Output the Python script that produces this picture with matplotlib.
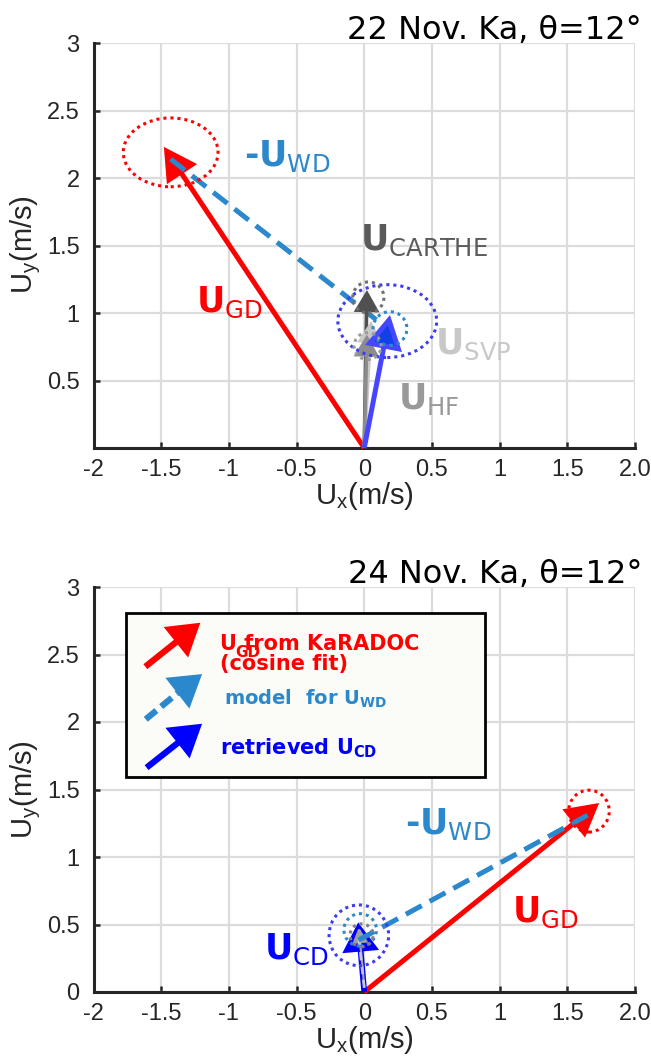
import matplotlib
matplotlib.use("Agg")
import matplotlib.pyplot as plt
from matplotlib.patches import Ellipse, Rectangle

plt.rcParams['font.family'] = ['DejaVu Sans']
plt.rcParams['mathtext.fontset'] = 'dejavusans'

# colores
ROJO = '#ff0000'
CELESTE = '#2b88cc'
AZUL = '#0000ff'
GRIS_OSC = '#505050'
GRIS = '#8c8c8c'
GRIS_CLARO = '#c8c8c8'

xticks = [-2, -1.5, -1, -0.5, 0, 0.5, 1, 1.5, 2]
xticklabels = ['-2', '-1.5', '-1', '-0.5', '0', '0.5', '1', '1.5', '2.0']
yticks = [0, 0.5, 1, 1.5, 2, 2.5, 3]
yticklabels_22 = ['', '0.5', '1', '1.5', '2', '2.5', '3']
yticklabels_24 = ['0', '0.5', '1', '1.5', '2', '2.5', '3']

# 22 Nov: vectores (origen -> punta)
u_gd_22 = (-1.48, 2.23)
u_cd_22 = (0.19, 0.985)
u_carthe_22 = (0.02, 1.17)
u_hf_22 = (0.02, 0.84)
u_svp_22 = (0.05, 0.94)
u_wd_22 = [(-1.43, 2.14), (0.14, 0.91)]     # -U_WD, desde la punta de U_GD
# incertidumbres (centro, ancho, alto)
elip_gd_22 = ((-1.43, 2.19), 0.70, 0.51)
elip_cd_22 = ((0.17, 0.94), 0.73, 0.54)
elip_wd_22 = ((0.19, 0.885), 0.25, 0.25)
elip_carthe_22 = ((0.03, 1.115), 0.23, 0.23)
elip_hf_22 = ((0.025, 0.755), 0.20, 0.20)

# 24 Nov
u_gd_24 = (1.735, 1.40)
u_cd_24 = (-0.045, 0.515)
u_hf_24 = (-0.04, 0.48)
u_wd_24 = [(1.65, 1.31), (-0.05, 0.38)]
elip_gd_24 = ((1.66, 1.34), 0.30, 0.31)
elip_cd_24 = ((-0.04, 0.42), 0.44, 0.45)
elip_wd_24 = ((-0.03, 0.46), 0.24, 0.24)
elip_gris_24 = ((-0.02, 0.42), 0.17, 0.17)


def flecha(ax, cola, punta, color, lw, hl, hw, fc=None, z=4):
    ax.annotate('', xy=punta, xytext=cola,
                arrowprops=dict(arrowstyle=f'-|>,head_length={hl},head_width={hw}',
                                lw=lw, ec=color, fc=fc or color,
                                shrinkA=0, shrinkB=0, mutation_scale=10,
                                joinstyle='miter', capstyle='butt'),
                zorder=z)


def elipse(ax, e, color, lw=2.2):
    ax.add_patch(Ellipse(e[0], e[1], e[2], fill=False, ec=color, lw=lw,
                         ls=(0, (1, 1.3)), zorder=5))


def rayado(ax, seg, color, lw=3.6):
    ax.plot([seg[0][0], seg[1][0]], [seg[0][1], seg[1][1]], color=color, lw=lw,
            dashes=(3.6, 1.8), solid_capstyle='butt', dash_capstyle='butt', zorder=4)


def etiqueta(ax, x, y, nombre, sub, color, prefijo=''):
    ax.text(x, y, prefijo + r'$\mathbf{' + nombre + r'}_{\mathrm{' + sub + r'}}$',
            color=color, fontsize=25, fontweight='bold', ha='left', va='baseline', zorder=6)


def ejes(fig, rect, ylabels, titulo, ytitulo):
    ax = fig.add_axes(rect)
    ax.set_xlim(-2, 2)
    ax.set_ylim(0, 3)
    ax.set_xticks(xticks)
    ax.set_xticklabels(xticklabels)
    ax.set_yticks(yticks)
    ax.set_yticklabels(ylabels)
    ax.grid(True, color='#dcdcdc', lw=1.6)
    ax.set_axisbelow(True)
    for s in ['top', 'right']:
        ax.spines[s].set_visible(False)
    for s in ['left', 'bottom']:
        ax.spines[s].set_color('#262626')
        ax.spines[s].set_linewidth(2.2)
    ax.tick_params(direction='in', length=4.5, width=1.8, color='#262626',
                   labelsize=17, labelcolor='#262626')
    ax.tick_params(axis='x', pad=8)
    ax.tick_params(axis='y', pad=10)
    for t in ax.get_xticklabels() + ax.get_yticklabels():
        t.set_fontfamily('Liberation Sans')
    fig.text(642 / 651, ytitulo, titulo, ha='right', va='baseline', fontsize=23)
    return ax


fig = plt.figure(figsize=(6.51, 10.58), dpi=100)

# ---------------- 22 Nov ----------------
ax1 = ejes(fig, [93.5 / 651, 1 - 448 / 1058, 541.5 / 651, 405 / 1058],
           yticklabels_22, '22 Nov. Ka, θ=12°', 1 - 39 / 1058)
elipse(ax1, elip_gd_22, ROJO)
elipse(ax1, elip_cd_22, '#3c3cf5')
elipse(ax1, elip_wd_22, CELESTE)
elipse(ax1, elip_carthe_22, '#707070')
elipse(ax1, elip_hf_22, '#9a9a9a')
flecha(ax1, (0, 0), u_gd_22, ROJO, 3.6, 1.8, 1.0)
rayado(ax1, u_wd_22, CELESTE)
flecha(ax1, (0, 0), u_carthe_22, GRIS_OSC, 2.6, 1.2, 0.7)
flecha(ax1, (0, 0), u_svp_22, GRIS_CLARO, 2.6, 1.2, 0.7)
flecha(ax1, (0, 0), u_hf_22, GRIS, 2.6, 1.2, 0.7)
flecha(ax1, (0, 0), u_cd_22, '#4646ff', 3.6, 1.9, 1.05, fc='#1040e8')
etiqueta(ax1, -1.245, 1.01, 'U', 'GD', ROJO)
etiqueta(ax1, -0.89, 2.09, 'U', 'WD', CELESTE, prefijo='-')
etiqueta(ax1, -0.03, 1.467, 'U', 'CARTHE', '#5a5a5a')
etiqueta(ax1, 0.52, 0.70, 'U', 'SVP', GRIS_CLARO)
etiqueta(ax1, 0.25, 0.288, 'U', 'HF', '#999999')

# ---------------- 24 Nov ----------------
ax2 = ejes(fig, [93.5 / 651, 1 - 992 / 1058, 541.5 / 651, 405 / 1058],
           yticklabels_24, '24 Nov. Ka, θ=12°', 1 - 583 / 1058)
elipse(ax2, elip_gd_24, ROJO)
elipse(ax2, elip_cd_24, '#3c3cf5')
elipse(ax2, elip_wd_24, CELESTE)
elipse(ax2, elip_gris_24, '#808080')
flecha(ax2, (0, 0), u_gd_24, ROJO, 3.6, 1.8, 1.0)
flecha(ax2, (0, 0), u_cd_24, AZUL, 4.2, 1.5, 0.95)
flecha(ax2, (0, 0.04), u_hf_24, '#a0a0a0', 1.6, 0.9, 0.45)
ax2.plot([0.0, -0.04], [0.03, 0.40], color=GRIS_CLARO, lw=2, dashes=(3, 2), zorder=4)
rayado(ax2, u_wd_24, CELESTE)
etiqueta(ax2, -0.74, 0.241, 'U', 'CD', AZUL)
etiqueta(ax2, 0.30, 1.174, 'U', 'WD', CELESTE, prefijo='-')
etiqueta(ax2, 1.09, 0.52, 'U', 'GD', ROJO)

# leyenda dibujada a mano
ax2.add_patch(Rectangle((-1.76, 1.59), 2.65, 1.22, fc='#fbfcf7', ec='black', lw=2, zorder=6))
flecha(ax2, (-1.617, 2.41), (-1.211, 2.735), ROJO, 4.5, 1.6, 1.0, z=7)
ax2.plot([-1.614, -1.30], [2.02, 2.28], color=CELESTE, lw=4.5, dashes=(2.2, 1.0),
         solid_capstyle='butt', zorder=7)
flecha(ax2, (-1.32, 2.26), (-1.198, 2.355), CELESTE, 4.5, 1.6, 1.0, z=7)
flecha(ax2, (-1.608, 1.662), (-1.198, 1.987), AZUL, 4.5, 1.6, 1.0, z=7)
ax2.text(-1.063, 2.533, 'U from KaRADOC', color=ROJO, fontsize=15, fontweight='bold',
         va='baseline', zorder=8)
ax2.text(-0.953, 2.484, 'GD', color=ROJO, fontsize=11, fontweight='bold',
         va='baseline', zorder=8)
ax2.text(-1.063, 2.385, '(cosine fit)', color=ROJO, fontsize=15, fontweight='bold',
         va='baseline', zorder=8)
ax2.text(-1.039, 2.126, r'model  for $\mathbf{U}_{\mathbf{WD}}$', color=CELESTE,
         fontsize=14, fontweight='bold', va='baseline', zorder=8)
ax2.text(-1.068, 1.763, r'retrieved $\mathbf{U}_{\mathbf{CD}}$', color=AZUL,
         fontsize=15, fontweight='bold', va='baseline', zorder=8)

# etiquetas de ejes
for yc, yx in [(1 - 245 / 1058, 1 - 504 / 1058), (1 - 790 / 1058, 1 - 1048 / 1058)]:
    fig.text(26 / 651, yc, r'U$_\mathregular{y}$(m/s)', rotation=90, ha='center', va='center',
             fontsize=21, family='Liberation Sans', color='#262626')
    fig.text(364 / 651, yx, r'U$_\mathregular{x}$(m/s)', ha='center', va='baseline',
             fontsize=21, family='Liberation Sans', color='#262626')

fig.savefig('out.png', dpi=100)
